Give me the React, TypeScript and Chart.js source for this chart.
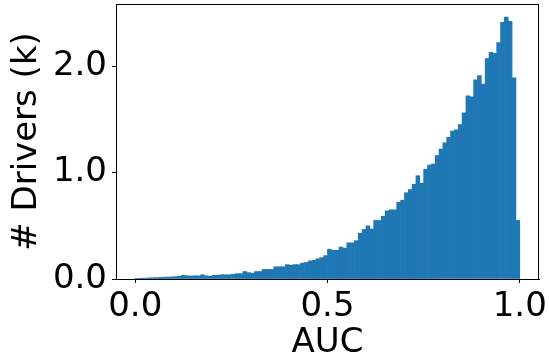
import React, { useEffect, useRef } from "react";
import { Chart, registerables } from "chart.js";

Chart.register(...registerables);

// Histogram of AUC, 100 equal bins on [0, 1]; counts in thousands of drivers
const binRange = [0, 1];
const counts = [
  0.006, 0.007, 0.008, 0.010, 0.012, 0.013, 0.015, 0.017, 0.018, 0.020,
  0.022, 0.025, 0.035, 0.030, 0.028, 0.030, 0.030, 0.040, 0.030, 0.025,
  0.035, 0.035, 0.040, 0.040, 0.040, 0.045, 0.050, 0.050, 0.070, 0.060,
  0.055, 0.070, 0.070, 0.090, 0.090, 0.090, 0.115, 0.115, 0.115, 0.135,
  0.130, 0.135, 0.135, 0.150, 0.155, 0.170, 0.175, 0.190, 0.200, 0.220,
  0.280, 0.270, 0.270, 0.300, 0.290, 0.340, 0.340, 0.360, 0.430, 0.465,
  0.500, 0.470, 0.550, 0.550, 0.590, 0.640, 0.650, 0.650, 0.720, 0.740,
  0.810, 0.840, 0.890, 0.970, 0.900, 1.030, 1.070, 1.080, 1.160, 1.220,
  1.280, 1.330, 1.390, 1.400, 1.450, 1.560, 1.720, 1.710, 1.870, 1.910,
  1.830, 2.070, 2.130, 2.120, 2.220, 2.410, 2.460, 2.420, 1.890, 0.550,
];
const xTicks = [0, 0.5, 1.0];
const yTicks = [0, 1, 2];
const xLabel = "AUC";
const yLabel = "# Drivers (k)";

const FONT = "'DejaVu Sans', sans-serif";

export default function App() {
  const ref = useRef<HTMLCanvasElement | null>(null);

  useEffect(() => {
    if (!ref.current) return;
    const n = counts.length;
    const w = (binRange[1] - binRange[0]) / n;
    const data = counts.map((c, i) => ({ x: binRange[0] + (i + 0.5) * w, y: c }));
    const maxC = Math.max(...counts);
    const span = binRange[1] - binRange[0];

    const zeroPad = (s: any) => {
      s.paddingTop = 0;
      s.paddingBottom = 0;
      s.paddingLeft = 0;
      s.paddingRight = 0;
    };

    const framePlugin = {
      id: "frame",
      afterDraw(chart: any) {
        const { ctx, chartArea } = chart;
        ctx.save();
        ctx.strokeStyle = "#000";
        ctx.lineWidth = 1;
        ctx.strokeRect(
          Math.round(chartArea.left) + 0.5,
          Math.round(chartArea.top) + 0.5,
          Math.round(chartArea.right - chartArea.left) - 1,
          Math.round(chartArea.bottom - chartArea.top)
        );
        ctx.restore();
      },
    };

    const chart = new Chart(ref.current, {
      type: "bar",
      data: {
        datasets: [
          {
            data,
            backgroundColor: "#1f77b4",
            borderWidth: 0,
            barPercentage: 1,
            categoryPercentage: 1,
          },
        ],
      },
      options: {
        responsive: false,
        animation: false,
        devicePixelRatio: 1,
        layout: { padding: { left: 0, top: 4, right: 10, bottom: 0 } },
        plugins: { legend: { display: false }, tooltip: { enabled: false } },
        scales: {
          x: {
            type: "linear",
            offset: false,
            min: binRange[0] - 0.05 * span,
            max: binRange[1] + 0.05 * span,
            afterBuildTicks: (s: any) => {
              s.ticks = xTicks.map((v) => ({ value: v }));
            },
            afterFit: (s: any) => {
              s.height = 85;
              zeroPad(s);
            },
            grid: {
              offset: false,
              drawOnChartArea: false,
              drawTicks: true,
              tickLength: 4,
              color: "#000",
            },
            border: { display: true, color: "#000", width: 1 },
            ticks: {
              padding: 4,
              color: "#000",
              maxRotation: 0,
              autoSkip: false,
              font: { family: FONT, size: 34 },
              callback: (v: any) => Number(v).toFixed(1),
            },
            title: {
              display: true,
              text: xLabel,
              color: "#000",
              padding: { top: 0, bottom: 0.5 },
              font: { family: FONT, size: 34 },
            },
          },
          y: {
            type: "linear",
            min: 0,
            max: maxC * 1.05,
            afterBuildTicks: (s: any) => {
              s.ticks = yTicks.map((v) => ({ value: v }));
            },
            afterFit: (s: any) => {
              s.width = 116;
              zeroPad(s);
            },
            grid: {
              drawOnChartArea: false,
              drawTicks: true,
              tickLength: 4,
              color: "#000",
            },
            border: { display: true, color: "#000", width: 1 },
            ticks: {
              padding: 5,
              color: "#000",
              autoSkip: false,
              font: { family: FONT, size: 34 },
              callback: (v: any) => Number(v).toFixed(1),
            },
            title: {
              display: true,
              text: yLabel,
              color: "#000",
              padding: { top: 7, bottom: 0 },
              font: { family: FONT, size: 34 },
            },
          },
        },
      },
      plugins: [framePlugin],
    } as any);

    return () => chart.destroy();
  }, []);

  return (
    <div style={{ position: "absolute", left: 0, top: 0, width: 549, height: 364, background: "#fff" }}>
      <canvas ref={ref} width={549} height={364} style={{ width: 549, height: 364, display: "block" }} />
    </div>
  );
}
